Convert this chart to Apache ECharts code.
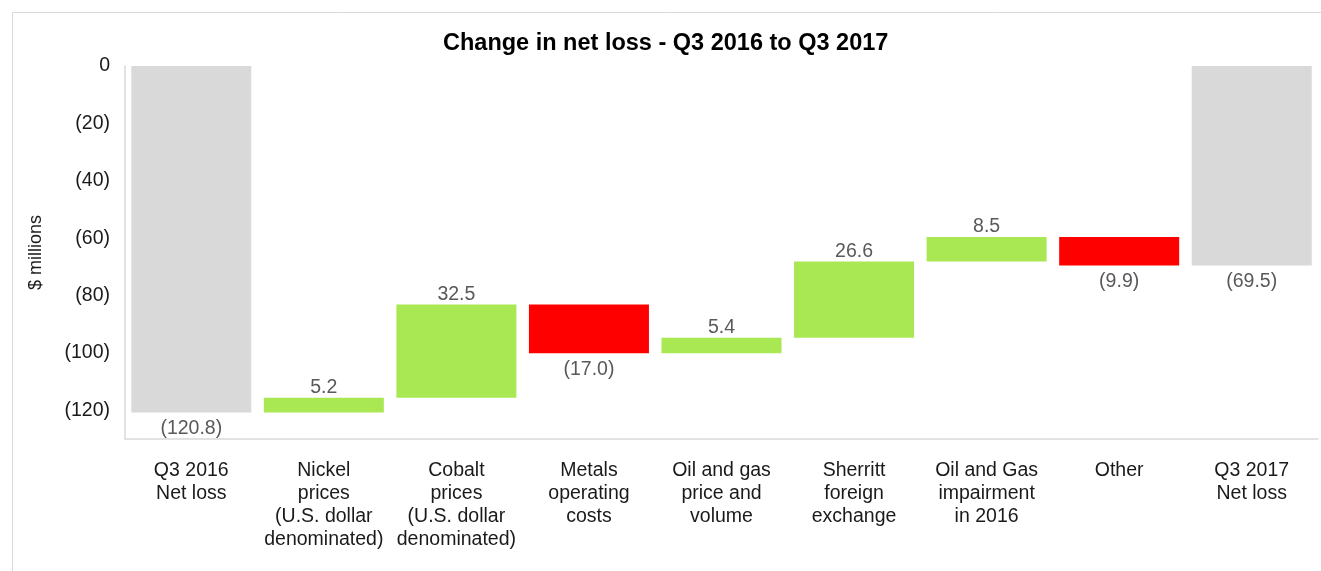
<!DOCTYPE html>
<html>
<head>
<meta charset="utf-8">
<script src="https://cdn.jsdelivr.net/npm/echarts@6/dist/echarts.min.js"></script>
<style>
  html, body { margin: 0; padding: 0; background: #fff; }
  #chart { width: 1321px; height: 571px; }
</style>
</head>
<body>
<div id="chart"></div>
<script>
const categories = [
  "Q3 2016\nNet loss",
  "Nickel\nprices\n(U.S. dollar\ndenominated)",
  "Cobalt\nprices\n(U.S. dollar\ndenominated)",
  "Metals\noperating\ncosts",
  "Oil and gas\nprice and\nvolume",
  "Sherritt\nforeign\nexchange",
  "Oil and Gas\nimpairment\nin 2016",
  "Other",
  "Q3 2017\nNet loss",
];
const changes = [-120.8, 5.2, 32.5, -17.0, 5.4, 26.6, 8.5, -9.9, -69.5];
const barKinds = ["total", "up", "up", "down", "up", "up", "up", "down", "total"];

const colors = { total: "#d9d9d9", up: "#a9e853", down: "#ff0000" };
const fontFamily = "'Liberation Sans', Arial, sans-serif";

// invisible base + visible piece, both negative so they stack together
const baseValues = [];
const pieceValues = [];
let level = 0;
changes.forEach((c, i) => {
  const kind = barKinds[i];
  if (kind === "total") {
    baseValues.push(0);
    pieceValues.push(c);
    level = c;
  } else if (kind === "up") {
    const next = Math.round((level + c) * 10) / 10;
    baseValues.push(next);
    pieceValues.push(-c);
    level = next;
  } else {
    baseValues.push(level);
    pieceValues.push(c);
    level = Math.round((level + c) * 10) / 10;
  }
});

function formatChange(c) {
  return c < 0 ? `(${Math.abs(c).toFixed(1)})` : c.toFixed(1);
}

const chart = echarts.init(document.getElementById("chart"));

chart.setOption({
  animation: false,
  textStyle: { fontFamily },
  graphic: [
    {
      type: "rect",
      shape: { x: 12.5, y: 12.5, width: 1400, height: 700 },
      style: { fill: "none", stroke: "#d9d9d9", lineWidth: 1 },
      silent: true,
    },
  ],
  title: {
    text: "Change in net loss - Q3 2016 to Q3 2017",
    left: 438,
    top: 27,
    textStyle: { fontFamily, fontSize: 23.5, fontWeight: "bold", color: "#000" },
  },
  grid: { left: 125, right: 3, top: 66, bottom: 132 },
  xAxis: {
    type: "category",
    data: categories,
    axisTick: { show: false },
    axisLine: { onZero: false, lineStyle: { color: "#d9d9d9", width: 1.5 } },
    axisLabel: {
      interval: 0,
      margin: 20,
      fontSize: 19.5,
      lineHeight: 23,
      color: "#1a1a1a",
      fontFamily,
    },
  },
  yAxis: {
    type: "value",
    min: -130,
    max: 0,
    interval: 10,
    name: "$ millions",
    nameLocation: "middle",
    nameRotate: 90,
    nameGap: 80,
    nameTextStyle: { fontSize: 18, color: "#1a1a1a", fontFamily },
    axisLine: { show: true, lineStyle: { color: "#d9d9d9", width: 1.5 } },
    axisTick: { show: false },
    splitLine: { show: false },
    axisLabel: {
      margin: 15,
      fontSize: 19.5,
      color: "#1a1a1a",
      fontFamily,
      padding: [5, 0, 0, 0],
      formatter: (v) => {
        if (v % 20 !== 0) return "";
        return v === 0 ? "0" : `(${Math.abs(v)})`;
      },
    },
  },
  series: [
    {
      type: "bar",
      stack: "wf",
      data: baseValues,
      barWidth: 120,
      itemStyle: { color: "transparent" },
      silent: true,
    },
    {
      type: "bar",
      stack: "wf",
      barWidth: 120,
      data: pieceValues.map((v, i) => ({
        value: v,
        itemStyle: { color: colors[barKinds[i]] },
        label: {
          show: true,
          position: barKinds[i] === "up" ? "top" : "bottom",
          distance: barKinds[i] === "up" ? 0 : 6,
          formatter: () => formatChange(changes[i]),
          fontSize: 19.5,
          color: "#595959",
          fontFamily,
        },
      })),
    },
  ],
});

window.addEventListener("resize", () => chart.resize());
</script>
</body>
</html>
